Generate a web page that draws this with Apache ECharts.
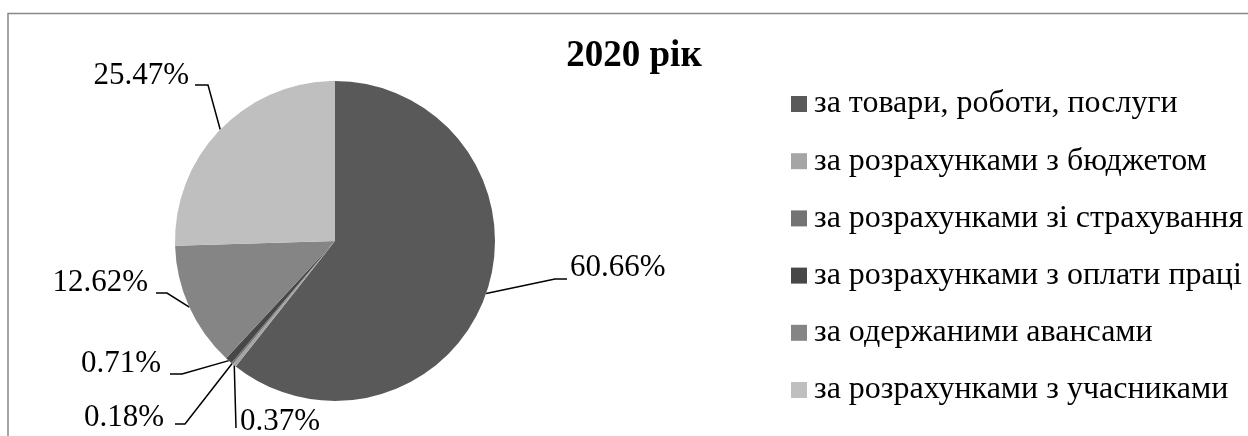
<!DOCTYPE html>
<html>
<head>
<meta charset="utf-8">
<script src="https://cdn.jsdelivr.net/npm/echarts@6/dist/echarts.min.js"></script>
<style>
  html, body { margin: 0; padding: 0; background: #fff; }
  #chart { width: 1248px; height: 436px; }
</style>
</head>
<body>
<div id="chart"></div>
<script>
// Structure of accounts payable, 2020
const chartTitle = '2020 рік';
const categories = [
  'за товари, роботи, послуги',
  'за розрахунками з бюджетом',
  'за розрахунками зі страхування',
  'за розрахунками з оплати праці',
  'за одержаними авансами',
  'за розрахунками з учасниками'
];
const shares = [60.66, 0.37, 0.18, 0.71, 12.62, 25.47];
const sliceColors = ['#595959', '#a5a5a5', '#737373', '#474747', '#858585', '#bfbfbf'];

// Where each percentage label sits and where its leader line ends
const labelSpots = [
  { x: 570, y: 268, align: 'left',  lineX: 567, lineY: 279, stub: 12 },
  { x: 240, y: 422, align: 'left',  lineX: 236, lineY: 428, stub: 0 },
  { x: 164, y: 418, align: 'right', lineX: 175, lineY: 424, stub: 10 },
  { x: 161, y: 364, align: 'right', lineX: 170, lineY: 374, stub: 12 },
  { x: 148, y: 283, align: 'right', lineX: 156, lineY: 293, stub: 11 },
  { x: 189, y: 76,  align: 'right', lineX: 195, lineY: 85,  stub: 13 }
];

const serif = '"Liberation Serif", "Times New Roman", serif';
const chart = echarts.init(document.getElementById('chart'), null, { renderer: 'canvas' });

chart.setOption({
  animation: false,
  color: sliceColors,
  title: {
    text: chartTitle,
    left: 634,
    top: 38,
    textAlign: 'center',
    padding: 0,
    textStyle: { fontFamily: serif, fontSize: 37, fontWeight: 'bold', color: '#000', lineHeight: 37 }
  },
  legend: {
    orient: 'vertical',
    left: 791,
    top: 88,
    padding: 0,
    itemWidth: 16,
    itemHeight: 16,
    itemGap: 25.2,
    icon: 'rect',
    selectedMode: false,
    data: categories,
    textStyle: { fontFamily: serif, fontSize: 32, color: '#000', lineHeight: 32, padding: [0, 0, 0, 2] }
  },
  graphic: [{
    type: 'rect',
    silent: true,
    shape: { x: 8, y: 13.5, width: 1400, height: 600 },
    style: { fill: 'none', stroke: '#888888', lineWidth: 1.5 }
  }],
  series: [{
    type: 'pie',
    center: [335, 241],
    radius: 160,
    startAngle: 90,
    clockwise: true,
    avoidLabelOverlap: false,
    itemStyle: { borderWidth: 0 },
    emphasis: { disabled: true },
    label: {
      show: true,
      position: 'outside',
      fontFamily: serif,
      fontSize: 31,
      color: '#000',
      formatter: function (p) { return p.value.toFixed(2) + '%'; }
    },
    labelLine: {
      show: true,
      smooth: false,
      length: 10,
      length2: 10,
      lineStyle: { color: '#000', width: 1.5 }
    },
    labelLayout: function (p) {
      const s = labelSpots[p.dataIndex];
      const edge = p.labelLinePoints ? p.labelLinePoints[0] : null;
      const dir = s.align === 'left' ? -1 : 1;
      const out = { x: s.x, y: s.y, align: s.align, verticalAlign: 'middle' };
      if (edge) {
        out.labelLinePoints = [
          [edge[0], edge[1]],
          [s.lineX + dir * s.stub, s.lineY],
          [s.lineX, s.lineY]
        ];
      }
      return out;
    },
    data: categories.map(function (name, i) {
      return { name: name, value: shares[i] };
    })
  }]
});
</script>
</body>
</html>
